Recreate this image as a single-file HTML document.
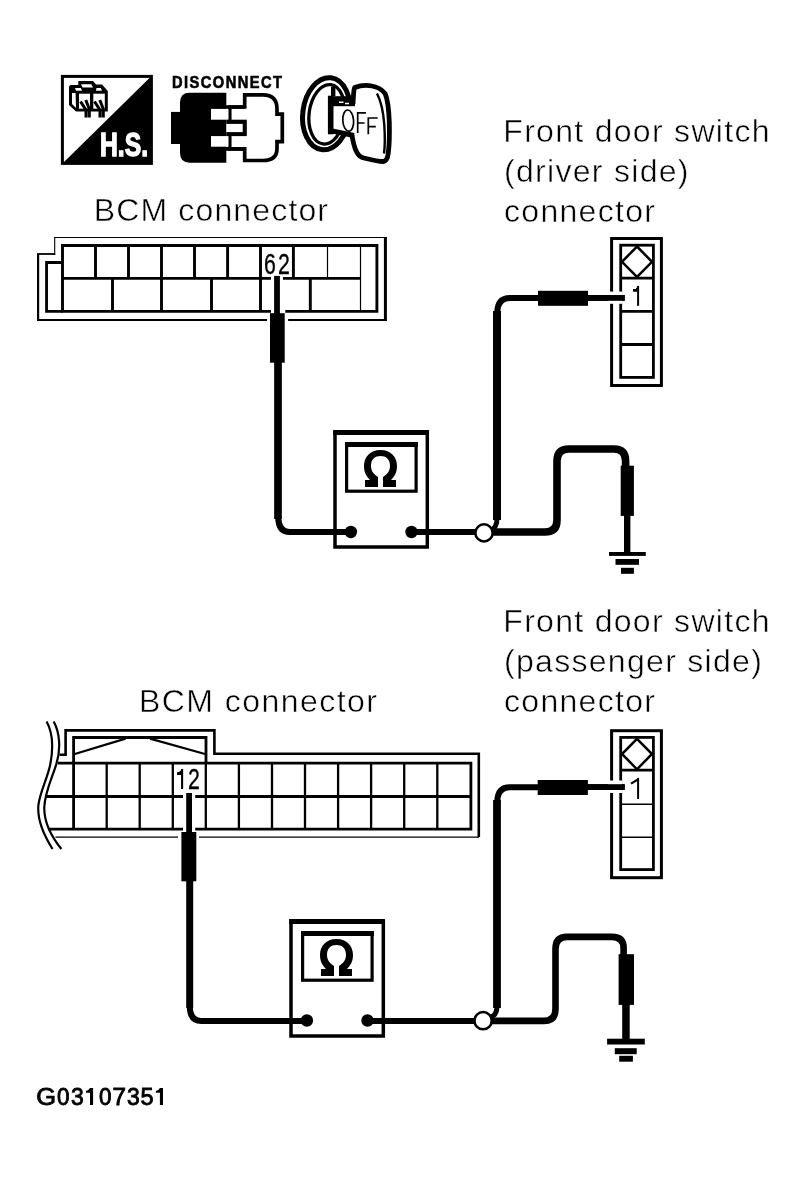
<!DOCTYPE html>
<html><head><meta charset="utf-8">
<style>
html,body{margin:0;padding:0;background:#fff;}
body{width:803px;height:1181px;overflow:hidden;position:relative;}
svg{position:absolute;left:0;top:0;will-change:transform;}
text{font-family:"Liberation Sans",sans-serif;}
</style></head>
<body>
<svg width="803" height="1181" viewBox="0 0 803 1181">
<rect x="0" y="0" width="803" height="1181" fill="#fff"/>

<!-- ===== ICONS ===== -->
<g id="icons">
  <!-- H.S. -->
  <rect x="62.4" y="76.4" width="89" height="87" fill="#fff" stroke="#000" stroke-width="3"/>
  <polygon points="63.5,162.5 150.5,77 150.5,162.5" fill="#000"/>
  <text x="100" y="156.3" font-size="34" font-weight="bold" fill="#fff" stroke="#fff" stroke-width="1.4" transform="translate(100,156.3) scale(0.728,1) translate(-100,-156.3)">H.S.</text>
  <g fill="#000">
    <polygon points="78.3,81 93,81 96,84.5 102,84.5 107.8,91 107.8,111.6 76,111.6 69,105 69,86.5 70.5,85 78.3,85"/>
  </g>
  <g fill="#fff">
    <polygon points="81,84.2 91.3,84.2 93,87.6 82.6,87.6"/>
    <polygon points="75,88 80.8,88 82,90.7 76,90.7"/>
    <polygon points="96.5,88 100.8,88 102,90.7 96,90.7"/>
    <polygon points="72,93 75.6,93 76,108 72,104"/>
    <rect x="79" y="93.7" width="11" height="15"/>
    <rect x="93.3" y="93.7" width="11.5" height="15"/>
  </g>
  <g fill="none" stroke="#000" stroke-width="3">
    <path d="M80.5,101.5 L86,110 V117.6 M85.8,100 L89.3,109 V117.6"/>
    <path d="M94.5,101.5 L100,110 V117.6 M99.8,100 L103.3,109 V117.6"/>
  </g>

  <!-- DISCONNECT -->
  <text x="172" y="87.7" font-size="16.3" font-weight="bold" stroke="#000" stroke-width="0.6" letter-spacing="1.6" transform="translate(172,87.7) scale(0.9,1) translate(-172,-87.7)">DISCONNECT</text>
  <g fill="#000">
    <rect x="171" y="111.9" width="10" height="32.1"/>
    <path d="M189.7,92.8 H226.3 V162.7 H189.7 Q180,162.7 180,153 V102.5 Q180,92.8 189.7,92.8 Z"/>
  </g>
  <path d="M244.7,94.9 H263 Q277,94.9 277,109 V114.1 H282.3 V141.6 H277 V148.5 Q277,160.5 263,160.5 H244.7 V148.8 H229.7 V107 H244.7 Z" fill="#fff" stroke="#000" stroke-width="3.7"/>
  <g fill="#fff">
    <rect x="211" y="108.9" width="17.5" height="10.8"/>
    <rect x="211" y="136.1" width="17.5" height="10.6"/>
  </g>
  <path d="M225.5,107 H244.7 M225.5,148.8 H244.7" stroke="#000" stroke-width="3.7"/>
  <rect x="226.3" y="119.7" width="20.5" height="16.4" fill="#000"/>
  <rect x="226.3" y="123.9" width="16.4" height="8.2" fill="#fff"/>

  <!-- KEY OFF -->
  <g fill="none" stroke="#000">
    <ellipse cx="326.4" cy="113.7" rx="23.6" ry="36.2" stroke-width="5" fill="#fff" transform="rotate(7.5 326.4 113.7)"/>
    <ellipse cx="326.8" cy="114.3" rx="17.7" ry="29.9" stroke-width="3.3" transform="rotate(7.5 326.8 114.3)"/>
    <path d="M354.7,87.6 C360,85.5 366,84.8 372,86 C378,87 382,89.5 385.2,93.8 C388,100 388.9,111.9 389.3,122 C389.6,134 389.3,145 388.3,152.9 C387.8,158 386.5,161 383,161.5 C378,161.5 372,160 366,158.5 C361,157.5 358,156 355.3,149.2 C353.5,144 352.8,140 352.2,136.8 C352.5,120 352.8,105 353.4,96.9 C353.6,92 354,89 354.7,87.6 Z" fill="#fff" stroke-width="4.8"/>
    <path d="M377,93.5 C381,101 383.5,114 384.3,125 C385,136 385,146 384,153.5" stroke-width="2.4"/>
    <polygon points="331,104 357.5,104 357.5,135.5 331,131" fill="#fff" stroke="none"/>
    <path d="M330.7,95.7 V134.3" stroke-width="5.6"/>
    <path d="M328,101.2 H355" stroke-width="10"/>
    <path d="M339,102.2 H343.5 M345,103.5 H349" stroke="#fff" stroke-width="1.4"/>
    <path d="M331,130.8 L354,135.5" stroke-width="5"/>
    <path d="M333.2,87 V96" stroke-width="4.4"/>
  </g>
  <g fill="none" stroke="#000" stroke-width="1.7">
    <ellipse cx="348.2" cy="120.6" rx="5.4" ry="10.6" transform="rotate(-4 348.2 120.6)"/>
    <path d="M357.7,133 V112.9 H365.9 M357.7,123 H364.6"/>
    <path d="M368.3,134.3 V118 H377.7 M368.3,126.7 H375.8"/>
  </g>
</g>

<!-- ===== TOP BCM CONNECTOR ===== -->
<g fill="none" stroke="#000">
  <path d="M38.1,320.9 V254" stroke-width="2.2"/>
  <path d="M37,254 H55.2" stroke-width="1.8"/>
  <path d="M54.7,254.9 V237" stroke-width="1.1"/>
  <path d="M54.2,237.5 H386.9" stroke-width="1.1"/>
  <path d="M385.4,237 V320.9" stroke-width="3"/>
  <path d="M37,319.9 H386.9" stroke-width="2"/>
  <path d="M62.5,311.4 H46.55 V262.5 H62.5" stroke-width="2.8"/>
  <path d="M62.5,244 V312.8 M61.1,245.5 H377.9 M376.9,244.1 V312.8 M61.1,311.4 H377.9" stroke-width="2.9"/>
  <path d="M62.5,278.4 H360.5" stroke-width="2.9"/>
  <path d="M95.5,245 V278.4 M128.5,245 V278.4 M161.5,245 V278.4 M194.5,245 V278.4 M227.6,245 V278.4 M260.5,245 V278.4 M293.4,245 V278.4" stroke-width="2.9"/>
  <path d="M327.5,245 V278.4 M360.5,245 V311.4" stroke-width="1.2"/>
  <path d="M112.5,278.4 V311.4 M161.5,278.4 V311.4 M211.5,278.4 V311.4 M260.5,278.4 V311.4 M310.3,278.4 V311.4" stroke-width="2.9"/>
</g>
<!-- gaps for probe -->
<path d="M271,276 h12 v5 h-12z M271,309 h14.3 v5 h-14.3z M267,317 h21.1 v5 h-21.1z" fill="#fff"/>
<text x="264" y="273.7" font-size="30" stroke="#000" stroke-width="0.35" letter-spacing="3" transform="translate(264,273.7) scale(0.71,1) translate(-264,-273.7)">62</text>
<g fill="#000">
  <rect x="274.1" y="275.9" width="5.8" height="38"/>
  <rect x="270" y="313.2" width="14.7" height="49.5"/>
</g>
<g fill="none" stroke="#000">
  <path d="M278,362 V519" stroke-width="7.7"/>
  <path d="M278.3,517 Q278.3,532 290,532 H352" stroke-width="6.2"/>
</g>
<!-- meter 1 -->
<g fill="none" stroke="#000">
  <rect x="335" y="432" width="92.3" height="115" stroke-width="3.5"/>
  <path d="M333.2,432.6 H428.8" stroke-width="5"/>
  <rect x="346.6" y="443.8" width="69.5" height="47.4" stroke-width="3.2"/>
  <path d="M345.1,444.6 H417.9" stroke-width="5"/>
</g>
<g fill="#000">
  <path d="M380.5,450 C370,450 364,457 364,466 C364,473 367,477 370,480 H365 V487 H378 V477 C373,474 371,470 371,466 C371,459 375,456 380.5,456 C386,456 390,459 390,466 C390,470 388,474 383,477 V487 H396 V480 H391 C394,477 397,473 397,466 C397,457 391,450 380.5,450 Z"/>
  <circle cx="350.9" cy="532" r="6.2"/>
  <circle cx="411.5" cy="532" r="6.2"/>
</g>
<!-- wire meter to junction & ground -->
<g fill="none" stroke="#000" stroke-width="6.5">
  <path d="M411.5,532 H475" stroke-width="6"/>
  <path d="M493,532 H545 Q557,532 557,520 V461 Q557,449 569,449 H614 Q625.6,449 625.6,461 V470" stroke-width="7.6"/>
  <path d="M497,520 V311" stroke-width="8"/>
  <path d="M497.3,313 Q497.3,298 510,298 H540" stroke-width="6"/>
  <path d="M497,518 Q497,528 491,530" stroke-width="5"/>
</g>
<circle cx="484" cy="532.9" r="8.6" fill="#fff" stroke="#000" stroke-width="2.5"/>
<g fill="#000">
  <rect x="538" y="290.8" width="50" height="15"/>
  <rect x="587" y="295" width="37.7" height="5.8"/>
  <rect x="620.7" y="465.7" width="13.2" height="50.2"/>
  <rect x="624" y="515" width="6.4" height="37.5"/>
  <rect x="609" y="552" width="36.8" height="3.9"/>
  <rect x="615.5" y="559" width="23.5" height="5.8"/>
  <rect x="621" y="567.8" width="12.9" height="6"/>
</g>
<!-- right connector 1 -->
<g fill="none" stroke="#000">
  <rect x="611.6" y="238.5" width="49.8" height="147" stroke-width="3"/>
  <rect x="620.7" y="245.2" width="32.7" height="132.2" stroke-width="2.8"/>
  <path d="M620.7,278.1 H653.4 M620.7,311.3 H653.4 M620.7,344.5 H653.4" stroke-width="2.8"/>
  <path d="M637,246.5 L652,261.8 L637,277 L622,261.8 Z" stroke-width="2.5"/>
</g>
<rect x="608" y="291.6" width="14" height="12.2" fill="#fff"/>
<rect x="587" y="295" width="37.7" height="5.8" fill="#000"/>
<path d="M638.1,285.9 V305.8" fill="none" stroke="#000" stroke-width="2"/>
<path d="M633,289 H637.1 V291.8 H633 Z M636,287.8 h1.5 v1.5 h-1.5z" fill="#000"/>

<!-- ===== BOTTOM BCM CONNECTOR ===== -->
<g fill="none" stroke="#000">
  <path d="M46.6,721.5 C53,733 53.5,748 50.2,764.8 C47.5,778 40,792 38.4,805 C37,820 43,834 52.5,849" stroke-width="2.2"/>
  <path d="M53.7,721.5 C60,733 61,750 56.1,764.8 C52,778 45,792 44.3,807 C43.8,822 51,836 61.4,849" stroke-width="2.2"/>
  <path d="M59.6,754.7 H65.6 V730.4 H214.4 V753.8 H478.8 V837.1" stroke-width="2.6"/>
  <path d="M55.5,837.1 H479" stroke-width="1.3"/>
  <path d="M73.6,829 V737.5 H206 V763" stroke-width="2.8"/>
  <path d="M74.8,754 L125.6,738.6 M150,738.6 L205,754" stroke-width="2.2"/>
  <path d="M57.9,763.2 H470.9 V829.2 H48.4 M45.4,796.5 H470.9" stroke-width="2.8"/>
  <path d="M106.7,763 V829 M139.7,763 V829 M172.8,763 V829 M205.8,763 V829 M238.9,763 V829 M272.0,763 V829 M305.0,763 V829 M338.1,763 V829 M371.1,763 V829 M404.2,763 V829 M437.3,763 V829" stroke-width="2.3"/>
</g>
<path d="M183,793 h12.2 v6.5 h-12.2z M183,826 h12.2 v6 h-12.2z M178,834 h21 v6 h-21z" fill="#fff"/>
<path d="M182.1,769 V789" fill="none" stroke="#000" stroke-width="2.1"/>
<path d="M177.1,772 H181.5 V774.9 H177.1 Z M179.6,770.8 h2 v1.5 h-2z" fill="#000"/>
<text x="188" y="789.5" font-size="30" stroke="#000" stroke-width="0.35" transform="translate(188,789.5) scale(0.71,1) translate(-188,-789.5)">2</text>
<g fill="#000">
  <rect x="186.2" y="793" width="5.8" height="40"/>
  <rect x="181.4" y="832" width="14.9" height="49.3"/>
</g>
<g fill="none" stroke="#000">
  <path d="M189.7,881 V1008" stroke-width="7"/>
  <path d="M189.8,1006 Q189.8,1021 201.5,1021 H308" stroke-width="6"/>
</g>
<!-- meter 2 -->
<g transform="translate(-44,489)">
<g fill="none" stroke="#000">
  <rect x="335" y="432" width="92.3" height="115" stroke-width="3.5"/>
  <path d="M333.2,432.6 H428.8" stroke-width="5"/>
  <rect x="346.6" y="443.8" width="69.5" height="47.4" stroke-width="3.2"/>
  <path d="M345.1,444.6 H417.9" stroke-width="5"/>
</g>
<g fill="#000">
  <path d="M380.5,450 C370,450 364,457 364,466 C364,473 367,477 370,480 H365 V487 H378 V477 C373,474 371,470 371,466 C371,459 375,456 380.5,456 C386,456 390,459 390,466 C390,470 388,474 383,477 V487 H396 V480 H391 C394,477 397,473 397,466 C397,457 391,450 380.5,450 Z"/>
  <circle cx="350.9" cy="531.5" r="6.2"/>
  <circle cx="411.5" cy="531.5" r="6.2"/>
</g>
</g>
<!-- wires bottom right -->
<g fill="none" stroke="#000" stroke-width="6.5">
  <path d="M367,1020.9 H475" stroke-width="6"/>
  <path d="M492,1020.9 H544 Q555.5,1020.9 555.5,1009 V949 Q555.5,936.9 567,936.9 H612 Q623.6,936.9 623.6,948 V958" stroke-width="6.6"/>
  <path d="M497,1008 V800" stroke-width="7.8"/>
  <path d="M497.3,802 Q497.3,787.2 510,787.2 H540" stroke-width="6"/>
  <path d="M497,1006 Q497,1015 491,1017" stroke-width="5"/>
</g>
<circle cx="483.1" cy="1020.7" r="8.6" fill="#fff" stroke="#000" stroke-width="2.5"/>
<g fill="#000">
  <rect x="537.7" y="780" width="50.2" height="15"/>
  <rect x="587" y="784.2" width="37.7" height="5.8"/>
  <rect x="618.6" y="954.2" width="15.4" height="50.7"/>
  <rect x="622.2" y="1004" width="7.5" height="36"/>
  <rect x="607.1" y="1038.7" width="37.7" height="5.8"/>
  <rect x="614.8" y="1048.2" width="21.9" height="6"/>
  <rect x="619.2" y="1055.8" width="13.7" height="5.9"/>
</g>
<!-- right connector 2 -->
<g fill="none" stroke="#000">
  <rect x="611.6" y="730.7" width="49.8" height="147" stroke-width="3"/>
  <rect x="620.7" y="737.4" width="32.7" height="132.2" stroke-width="2.8"/>
  <path d="M620.7,770.1 H653.4" stroke-width="2.8"/>
  <path d="M620.7,804.2 H653.4 M620.7,837.2 H653.4" stroke-width="1.4"/>
  <path d="M637,738.8 L652,754 L637,769.3 L622,754 Z" stroke-width="2.5"/>
</g>
<rect x="608" y="780.5" width="14" height="12.5" fill="#fff"/>
<rect x="587" y="784.2" width="37.7" height="5.8" fill="#000"/>
<path d="M638.1,777.9 V799" fill="none" stroke="#000" stroke-width="2"/>
<path d="M631,783.6 L637.5,779.8" fill="none" stroke="#000" stroke-width="2.2"/>

<!-- ===== TEXT LABELS ===== -->
<g font-size="32" fill="#000" stroke="#fff" stroke-width="0.5">
  <text transform="translate(503.3,142) scale(1,1)" letter-spacing="1.3">Front door switch</text>
  <text transform="translate(504,182) scale(1,1)" letter-spacing="1.3">(driver side)</text>
  <text transform="translate(504,222) scale(1,1)" letter-spacing="1.3">connector</text>
  <text transform="translate(93.7,221) scale(1,1)" letter-spacing="1.15">BCM connector</text>
  <text transform="translate(503.3,632) scale(1,1)" letter-spacing="1.3">Front door switch</text>
  <text transform="translate(504,672) scale(1,1)" letter-spacing="1.3">(passenger side)</text>
  <text transform="translate(504,712) scale(1,1)" letter-spacing="1.3">connector</text>
  <text transform="translate(139,712) scale(1,1)" letter-spacing="1.45">BCM connector</text>
</g>
<g font-size="24.2" stroke="#000" stroke-width="0.9">
  <text transform="translate(36.2,1105) scale(1.05,1)">G</text>
  <text transform="translate(57.1,1105) scale(0.93,1)">0</text>
  <text transform="translate(71.1,1105) scale(0.95,1)">3</text>
  <text transform="translate(98.9,1105) scale(0.93,1)">0</text>
  <text transform="translate(112.6,1105) scale(1.0,1)">7</text>
  <text transform="translate(126.9,1105) scale(0.95,1)">3</text>
  <text transform="translate(140.6,1105) scale(0.97,1)">5</text>
</g>
<path d="M90,1088 H93.1 V1105 H90 V1092.8 H86 V1091 Q88.5,1090.6 90,1088 Z M159.9,1088 H163 V1105 H159.9 V1092.8 H155.9 V1091 Q158.4,1090.6 159.9,1088 Z" fill="#000"/>

</svg>
</body></html>
